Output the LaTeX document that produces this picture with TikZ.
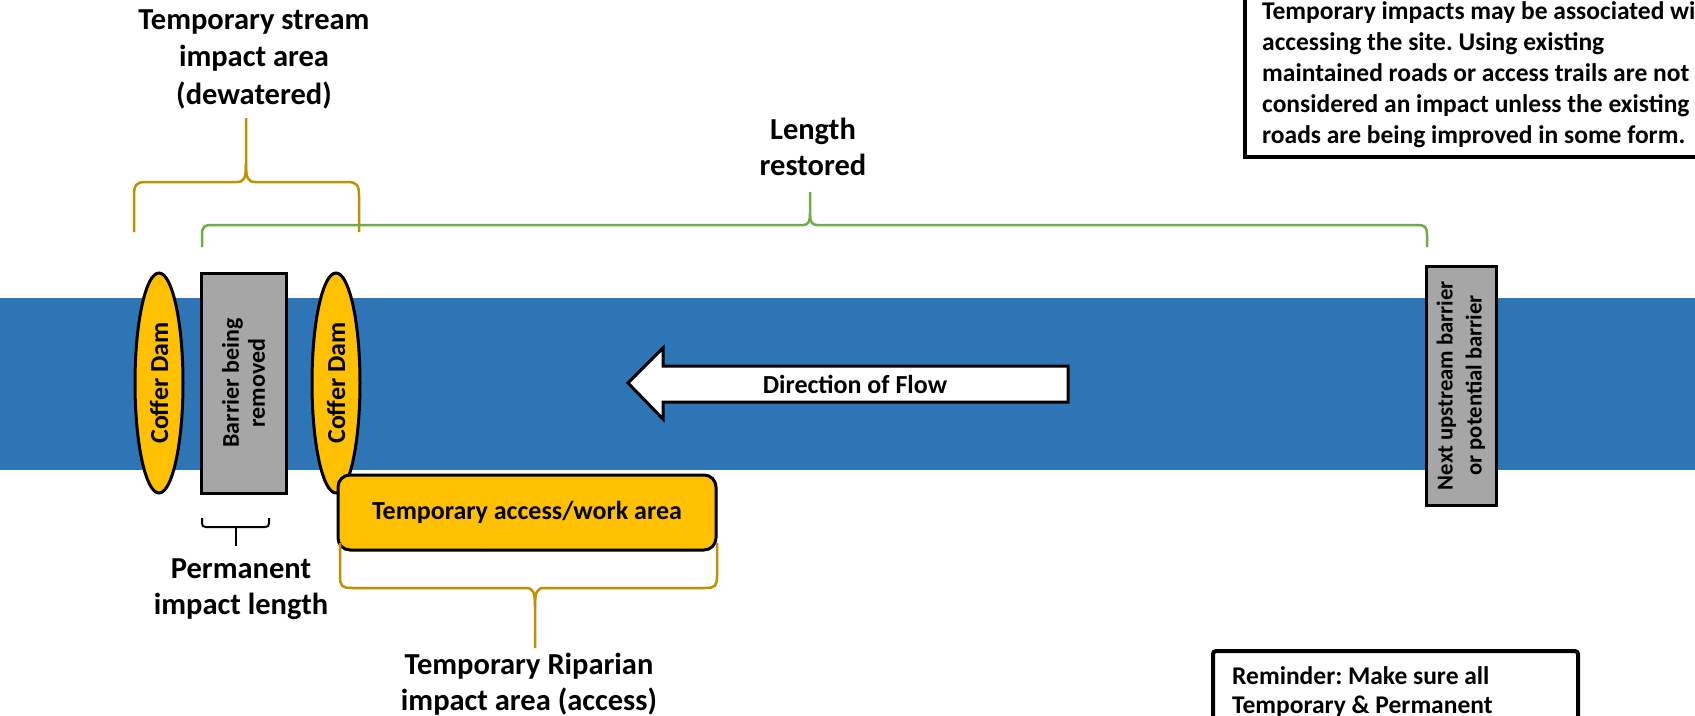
\documentclass[tikz,border=0pt]{standalone}
\usepackage{fontspec}
\setmainfont{Carlito}
\frenchspacing
\usetikzlibrary{shapes.geometric}
\definecolor{streamblue}{HTML}{2E75B6}
\definecolor{damgold}{HTML}{FFC000}
\definecolor{barriergray}{HTML}{A6A6A6}
\definecolor{braceorange}{HTML}{BF9000}
\definecolor{bracegreen}{HTML}{70AD47}
\begin{document}
\begin{tikzpicture}[x=1pt,y=-1pt,
  bigtxt/.style={font=\fontsize{30.5}{36}\selectfont\bfseries, align=center, inner sep=0},
  boxtxt/.style={font=\fontsize{25.5}{31}\selectfont\bfseries, align=left, inner sep=0, anchor=west},
  dam/.style={ellipse, draw=black, line width=3pt, fill=damgold, rotate=90,
    minimum width=220pt, minimum height=48pt, inner sep=0,
    font=\fontsize{26}{30}\selectfont\bfseries},
  barrierbox/.style={rectangle, draw=black, line width=3pt, fill=barriergray, rotate=90,
    inner sep=0, align=center},
  workbox/.style={rectangle, rounded corners=12pt, draw=black, line width=3pt, fill=damgold,
    minimum width=378pt, minimum height=75pt, inner sep=0,
    font=\fontsize{26}{30}\selectfont\bfseries},
  orangebrace/.style={draw=braceorange, line width=2.5pt},
  greenbrace/.style={draw=bracegreen, line width=2.5pt},
  blackbrace/.style={draw=black, line width=2pt},
  notebox/.style={draw=black, line width=4pt, fill=white}
]
\clip (0,0) rectangle (1695,715);
\fill[white] (0,0) rectangle (1695,715);

% stream
\fill[streamblue] (0,298) rectangle (1695,470);

% coffer dams and barrier
\node[dam] (damL) at (159,383) {Coffer Dam};
\node[barrierbox, minimum width=220pt, minimum height=85pt,
  font=\fontsize{24}{26}\selectfont\bfseries] (barrier) at (243.5,383) {Barrier being\\removed};
\node[dam] (damR) at (336,383) {Coffer Dam};

% work area
\node[workbox] (work) at (527,512.5) {Temporary access/work area};

% flow arrow
\draw[fill=white, line width=3pt, line join=miter]
  (628,383) -- (663,348) -- (663,366) -- (1068,366) -- (1068,402) -- (663,402) -- (663,419) -- cycle;
\node[font=\fontsize{26}{30}\selectfont\bfseries, inner sep=0] (flow) at (855,384) {Direction of Flow};

% next upstream barrier
\node[barrierbox, minimum width=239pt, minimum height=70pt,
  font=\fontsize{22.7}{29}\selectfont\bfseries] (next) at (1461,385.5) {Next upstream barrier\\or potential barrier};

% top orange brace
\coordinate (tbL) at (134,232);
\coordinate (tbR) at (359,232);
\coordinate (tbT) at (246,118);
\draw[orangebrace] (tbL) -- (134,196) .. controls (134,185) and (136,182) .. (146,182)
  -- (237,182) .. controls (244,182) and (246,178) .. (246,164) -- (tbT);
\draw[orangebrace] (tbR) -- (359,196) .. controls (359,185) and (357,182) .. (347,182)
  -- (255,182) .. controls (248,182) and (246,178) .. (246,164);

% green brace
\coordinate (gbL) at (202,247);
\coordinate (gbR) at (1427,247);
\coordinate (gbT) at (810,192);
\draw[greenbrace] (gbL) -- (202,235) .. controls (202,227) and (204,225) .. (212,225)
  -- (803,225) .. controls (808,225) and (810,222) .. (810,214) -- (gbT);
\draw[greenbrace] (gbR) -- (1427,235) .. controls (1427,227) and (1425,225) .. (1417,225)
  -- (817,225) .. controls (812,225) and (810,222) .. (810,214);

% bottom orange brace
\coordinate (bbL) at (340,543);
\coordinate (bbR) at (717,543);
\coordinate (bbB) at (535,648);
\draw[orangebrace] (bbL) -- (340,576) .. controls (340,586) and (342,588) .. (352,588)
  -- (526,588) .. controls (533,588) and (535,592) .. (535,606) -- (bbB);
\draw[orangebrace] (bbR) -- (717,576) .. controls (717,586) and (715,588) .. (705,588)
  -- (544,588) .. controls (537,588) and (535,592) .. (535,606);

% black brace
\coordinate (kbL) at (202,518);
\coordinate (kbR) at (269,518);
\coordinate (kbB) at (236,546);
\draw[blackbrace] (kbL) -- (202,523) .. controls (202,526) and (203,527) .. (206,527)
  -- (265,527) .. controls (268,527) and (269,526) .. (269,523) -- (kbR);
\draw[blackbrace] (236,527) -- (kbB);

% labels
\node[bigtxt, font=\fontsize{30.5}{37.5}\selectfont\bfseries] (lblStream) at (254,59) {Temporary stream\\impact area\\(dewatered)};
\node[bigtxt] (lblLength) at (813,147) {Length\\restored};
\node[bigtxt] (lblPerm) at (241,589) {Permanent\\impact length};
\node[bigtxt] (lblRip) at (529,684) {Temporary Riparian\\impact area (access)};

% note boxes
\draw[notebox] (1245,-60) rectangle (1760,157);
\node[boxtxt] (noteTop) at (1262,75) {Temporary impacts may be associated with\\accessing the site. Using existing\\maintained roads or access trails are not\\considered an impact unless the existing\\roads are being improved in some form.};

\draw[notebox, rounded corners=3pt] (1213,651) rectangle (1578,780);
\node[boxtxt, font=\fontsize{25.5}{29.5}\selectfont\bfseries] (noteBot) at (1232,692) {Reminder: Make sure all\\Temporary \& Permanent};
\end{tikzpicture}
\end{document}
